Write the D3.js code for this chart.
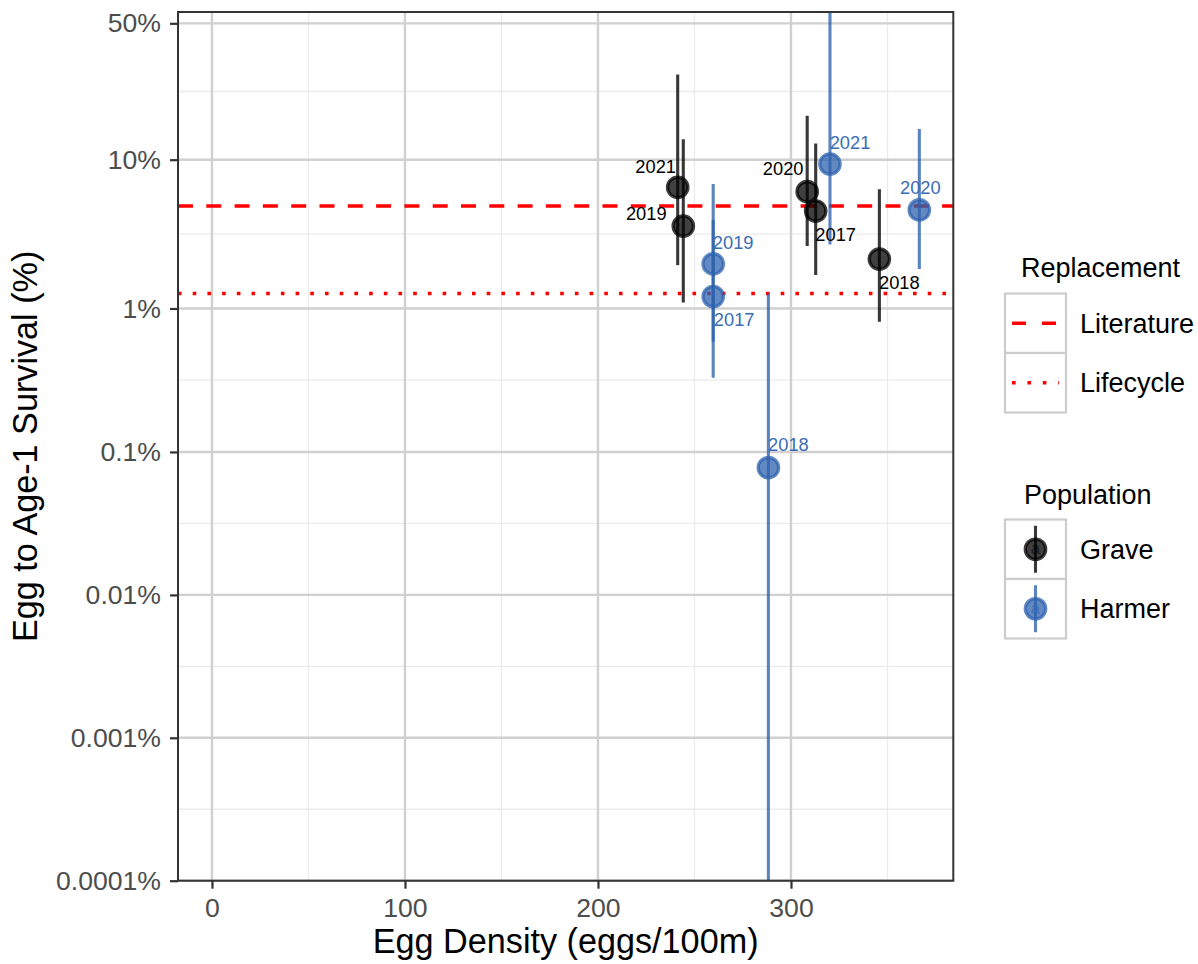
<!DOCTYPE html>
<html><head><meta charset="utf-8">
<script src="https://cdn.jsdelivr.net/npm/d3@7"></script>
<style>
body{margin:0;background:#fff}
svg{display:block}
text{font-family:"Liberation Sans",Arial,Helvetica,sans-serif}
</style>
</head><body>
<svg id="chart" width="1198" height="964"></svg>
<script>
// ---------------- data ----------------
const populations = ["Grave", "Harmer"];
const years = ["2017", "2018", "2019", "2020", "2021"];

const graveDensity  = [312.8, 345.8, 244.2, 308.4, 241.3];
const graveSurvival = [4.63, 2.19, 3.67, 6.22, 6.64];
const graveLower    = [1.70, 0.81, 1.10, 2.69, 1.99];
const graveUpper    = [12.6, 6.45, 13.4, 18.4, 30.5];

const harmerDensity  = [259.7, 288.3, 259.7, 366.5, 320.2];
const harmerSurvival = [1.21, 0.0776, 2.03, 4.71, 9.39];
const harmerLower    = [0.330, 0.00001, 0.588, 1.87, 2.76];
const harmerUpper    = [4.03, 1.27, 6.98, 15.4, 70];

const replacementNames  = ["Literature", "Lifecycle"];
const replacementValues = [5, 1.27];

const yTickValues = [0.0001, 0.001, 0.01, 0.1, 1, 10, 50];
const yTickLabels = ["0.0001%", "0.001%", "0.01%", "0.1%", "1%", "10%", "50%"];
const xTickValues = [0, 100, 200, 300];
const xMinorValues = [50, 150, 250, 350];

// label nudges (layout, px) — same order as years
const graveLabelOffset  = [[20, 23], [20, 23], [-37, -13], [-24, -23], [-22, -21]];
const harmerLabelOffset = [[21, 23], [20, -23], [20, -21], [1, -23], [20, -22]];

// ---------------- layout ----------------
const colors = {Grave: "#000000", Harmer: "#2d62ad"};
const labelColors = {Grave: "#000000", Harmer: "#3b6db3"};
const panel = {left: 178, right: 953.3, top: 12, bottom: 880.7};
const logit10 = p => Math.log10((p / 100) / (1 - p / 100));

const x = d3.scaleLinear().domain([-17.6, 384.1]).range([panel.left, panel.right]);
const yL = d3.scaleLinear().domain([logit10(0.0001), logit10(54.55)]).range([panel.bottom, panel.top]);
const y = p => yL(logit10(p));

const svg = d3.select("#chart");
svg.append("rect").attr("width", 1198).attr("height", 964).attr("fill", "#fff");

svg.append("defs").append("clipPath").attr("id", "clip")
  .append("rect").attr("x", panel.left).attr("y", panel.top)
  .attr("width", panel.right - panel.left).attr("height", panel.bottom - panel.top);

// grid
const grid = svg.append("g");
const majorL = yTickValues.map(logit10);
const minorL = [];
for (let i = 0; i < majorL.length - 1; i++) minorL.push((majorL[i] + majorL[i + 1]) / 2);

grid.selectAll(".ymin").data(minorL).join("line")
  .attr("x1", panel.left).attr("x2", panel.right)
  .attr("y1", d => yL(d)).attr("y2", d => yL(d))
  .attr("stroke", "#ebebeb").attr("stroke-width", 1.3);
grid.selectAll(".xmin").data(xMinorValues).join("line")
  .attr("x1", d => x(d)).attr("x2", d => x(d))
  .attr("y1", panel.top).attr("y2", panel.bottom)
  .attr("stroke", "#ebebeb").attr("stroke-width", 1.3);
grid.selectAll(".ymaj").data(majorL).join("line")
  .attr("x1", panel.left).attr("x2", panel.right)
  .attr("y1", d => yL(d)).attr("y2", d => yL(d))
  .attr("stroke", "#d0d0d0").attr("stroke-width", 2.4);
grid.selectAll(".xmaj").data(xTickValues).join("line")
  .attr("x1", d => x(d)).attr("x2", d => x(d))
  .attr("y1", panel.top).attr("y2", panel.bottom)
  .attr("stroke", "#d0d0d0").attr("stroke-width", 2.4);

// replacement lines
const repDash = ["15,13.3", "3.6,11.1"];
const plot = svg.append("g").attr("clip-path", "url(#clip)");
plot.selectAll(".rep").data(replacementValues).join("line")
  .attr("x1", panel.left).attr("x2", panel.right)
  .attr("y1", d => y(d)).attr("y2", d => y(d))
  .attr("stroke", "#ff0000").attr("stroke-width", 3.4)
  .attr("stroke-dasharray", (d, i) => repDash[i]);

// points
function series(name, dens, surv, lo, hi, off) {
  return years.map((yr, i) => ({pop: name, year: yr, x: dens[i], y: surv[i], lo: lo[i], hi: hi[i], off: off[i]}));
}
const pts = series("Grave", graveDensity, graveSurvival, graveLower, graveUpper, graveLabelOffset)
  .concat(series("Harmer", harmerDensity, harmerSurvival, harmerLower, harmerUpper, harmerLabelOffset));

const pg = plot.selectAll(".pr").data(pts).join("g");
pg.append("line")
  .attr("x1", d => x(d.x)).attr("x2", d => x(d.x))
  .attr("y1", d => y(d.lo)).attr("y2", d => y(d.hi))
  .attr("stroke", d => colors[d.pop]).attr("stroke-opacity", 0.78).attr("stroke-width", 3.1);
pg.append("circle")
  .attr("cx", d => x(d.x)).attr("cy", d => y(d.y)).attr("r", 10.2)
  .attr("fill", d => colors[d.pop]).attr("fill-opacity", 0.75)
  .attr("stroke", d => colors[d.pop]).attr("stroke-opacity", 0.75).attr("stroke-width", 3.3);

plot.selectAll(".lab").data(pts).join("text")
  .attr("x", d => x(d.x) + d.off[0]).attr("y", d => y(d.y) + d.off[1])
  .attr("text-anchor", "middle").attr("dy", "0.36em")
  .attr("font-size", 18.3).attr("fill", d => labelColors[d.pop])
  .text(d => d.year);

// panel border
svg.append("rect").attr("x", panel.left).attr("y", panel.top)
  .attr("width", panel.right - panel.left).attr("height", panel.bottom - panel.top)
  .attr("fill", "none").attr("stroke", "#333").attr("stroke-width", 2);

// axes
const yAxis = svg.append("g").attr("transform", `translate(${panel.left},0)`)
  .call(d3.axisLeft(yL).tickValues(majorL).tickFormat((d, i) => yTickLabels[i]).tickSize(8).tickPadding(9));
const xAxis = svg.append("g").attr("transform", `translate(0,${panel.bottom})`)
  .call(d3.axisBottom(x).tickValues(xTickValues).tickFormat(d3.format("d")).tickSize(8).tickPadding(9.3));
[yAxis, xAxis].forEach(a => {
  a.select(".domain").remove();
  a.selectAll(".tick line").attr("stroke", "#333").attr("stroke-width", 2.2);
  a.selectAll(".tick text").attr("fill", "#4d4d4d").attr("font-size", 26.6)
    .attr("font-family", '"Liberation Sans",Arial,Helvetica,sans-serif');
});

// axis titles
svg.append("text").attr("x", (panel.left + panel.right) / 2).attr("y", 953)
  .attr("text-anchor", "middle").attr("font-size", 34.2).attr("fill", "#000")
  .text("Egg Density (eggs/100m)");
svg.append("text").attr("transform", `translate(37.3,${(panel.top + panel.bottom) / 2}) rotate(-90)`)
  .attr("text-anchor", "middle").attr("font-size", 34.2).attr("fill", "#000")
  .text("Egg to Age-1 Survival (%)");

// legends
const keyX = 1005, keyW = 61, keyH = 59.5, textX = 1080;
const leg1 = svg.append("g");
leg1.append("text").attr("x", 1021).attr("y", 277).attr("font-size", 27).text("Replacement");
replacementNames.forEach((nm, i) => {
  const ky = 293.5 + i * keyH;
  leg1.append("rect").attr("x", keyX).attr("y", ky).attr("width", keyW).attr("height", keyH)
    .attr("fill", "#fff").attr("stroke", "#cccccc").attr("stroke-width", 2.2);
  leg1.append("line").attr("x1", keyX + 7).attr("x2", keyX + keyW - 7)
    .attr("y1", ky + keyH / 2).attr("y2", ky + keyH / 2)
    .attr("stroke", "#ff0000").attr("stroke-width", 3.4).attr("stroke-dasharray", i === 0 ? "14,16" : "3.6,11.8");
  leg1.append("text").attr("x", textX).attr("y", ky + keyH / 2).attr("dy", "0.35em")
    .attr("font-size", 27).text(nm);
});

const leg2 = svg.append("g");
leg2.append("text").attr("x", 1024).attr("y", 503.5).attr("font-size", 27).text("Population");
populations.forEach((nm, i) => {
  const ky = 519.5 + i * keyH, cx = keyX + keyW / 2, cy = ky + keyH / 2;
  leg2.append("rect").attr("x", keyX).attr("y", ky).attr("width", keyW).attr("height", keyH)
    .attr("fill", "#fff").attr("stroke", "#cccccc").attr("stroke-width", 2.2);
  leg2.append("line").attr("x1", cx).attr("x2", cx).attr("y1", cy - 23.5).attr("y2", cy + 23.5)
    .attr("stroke", colors[nm]).attr("stroke-opacity", 0.78).attr("stroke-width", 3.1);
  leg2.append("circle").attr("cx", cx).attr("cy", cy).attr("r", 10.2)
    .attr("fill", colors[nm]).attr("fill-opacity", 0.75)
    .attr("stroke", colors[nm]).attr("stroke-opacity", 0.75).attr("stroke-width", 3.3);
  leg2.append("text").attr("x", cx).attr("y", cy).attr("dy", "0.3em").attr("text-anchor", "middle")
    .attr("font-size", 17).attr("fill", colors[nm]).attr("fill-opacity", 0.6).text("a");
  leg2.append("text").attr("x", textX).attr("y", cy).attr("dy", "0.35em")
    .attr("font-size", 27).text(nm);
});
</script>
</body></html>
